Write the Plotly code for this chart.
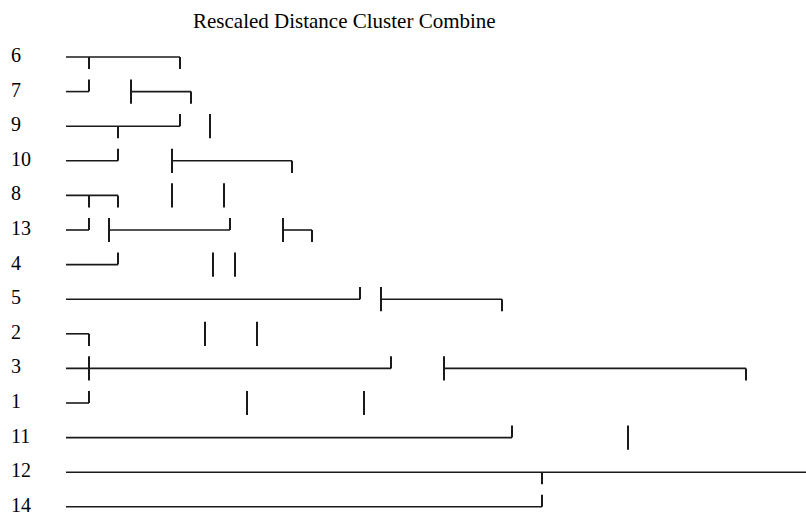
import plotly.graph_objects as go

# Case labels, top to bottom
cases = ["6", "7", "9", "10", "8", "13", "4", "5", "2", "3", "1", "11", "12", "14"]

# Horizontal runs per case row: (row label, start distance, end distance)
h_runs = [
    ("6", 0, 114),
    ("7", 0, 23), ("7", 65, 125),
    ("9", 0, 114),
    ("10", 0, 52), ("10", 106, 226),
    ("8", 0, 52),
    ("13", 0, 23), ("13", 43, 164), ("13", 217, 246),
    ("4", 0, 52),
    ("5", 0, 294), ("5", 315, 436),
    ("2", 0, 23),
    ("3", 0, 325), ("3", 378, 680),
    ("1", 0, 23),
    ("11", 0, 446),
    ("12", 0, 740),
    ("14", 0, 476),
]

# Vertical joins per case row: (row label, distance, part) part: up / down / full
v_joins = [
    ("6", 23, "down"), ("6", 114, "down"),
    ("7", 23, "up"), ("7", 65, "full"), ("7", 125, "down"),
    ("9", 114, "up"), ("9", 52, "down"), ("9", 144, "full"),
    ("10", 52, "up"), ("10", 106, "full"), ("10", 226, "down"),
    ("8", 23, "down"), ("8", 52, "down"), ("8", 106, "full"), ("8", 158, "full"),
    ("13", 23, "up"), ("13", 43, "full"), ("13", 164, "up"), ("13", 217, "full"), ("13", 246, "down"),
    ("4", 52, "up"), ("4", 147, "full"), ("4", 169, "full"),
    ("5", 294, "up"), ("5", 315, "full"), ("5", 436, "down"),
    ("2", 23, "down"), ("2", 139, "full"), ("2", 191, "full"),
    ("3", 23, "full"), ("3", 325, "up"), ("3", 378, "full"), ("3", 680, "down"),
    ("1", 23, "up"), ("1", 181, "full"), ("1", 298, "full"),
    ("11", 446, "up"), ("11", 562, "full"),
    ("12", 476, "down"),
    ("14", 476, "up"),
]

title_text = "Rescaled Distance Cluster Combine"

row_idx = {c: i for i, c in enumerate(cases)}
HALF = 0.35
INK = "#1a1a1a"

hx, hy = [], []
for lab, a, b in h_runs:
    r = row_idx[lab]
    hx += [a, b, None]
    hy += [r, r, None]

vx, vy = [], []
for lab, x, part in v_joins:
    r = row_idx[lab]
    if part == "up":
        y0, y1 = r - HALF, r
    elif part == "down":
        y0, y1 = r, r + HALF
    else:
        y0, y1 = r - HALF, r + HALF
    vx += [x, x, None]
    vy += [y0, y1, None]

fig = go.Figure()
fig.add_trace(go.Scatter(x=hx, y=hy, mode="lines",
                         line=dict(color=INK, width=1.6), hoverinfo="skip"))
fig.add_trace(go.Scatter(x=vx, y=vy, mode="lines",
                         line=dict(color=INK, width=2), hoverinfo="skip"))
fig.add_trace(go.Scatter(x=[-55] * len(cases), y=list(range(len(cases))),
                         mode="text", text=cases, textposition="middle right",
                         textfont=dict(family="Liberation Serif", size=20, color="black"),
                         hoverinfo="skip", cliponaxis=False))

fig.add_annotation(text=title_text, x=278.5, y=-1.04, xref="x", yref="y",
                   showarrow=False, xanchor="center", yanchor="middle",
                   font=dict(family="Liberation Serif", size=21, color="black"))

fig.update_layout(
    width=806, height=512,
    margin=dict(l=0, r=0, t=0, b=0),
    paper_bgcolor="white", plot_bgcolor="white",
    showlegend=False,
    xaxis=dict(range=[-66, 740], visible=False, fixedrange=True),
    yaxis=dict(range=[13.15, -1.647], visible=False, fixedrange=True),
)

fig.write_html(
    "out.html",
    config={"displayModeBar": False},
    post_script="document.body.style.margin='0';document.body.style.overflow='hidden';",
)
